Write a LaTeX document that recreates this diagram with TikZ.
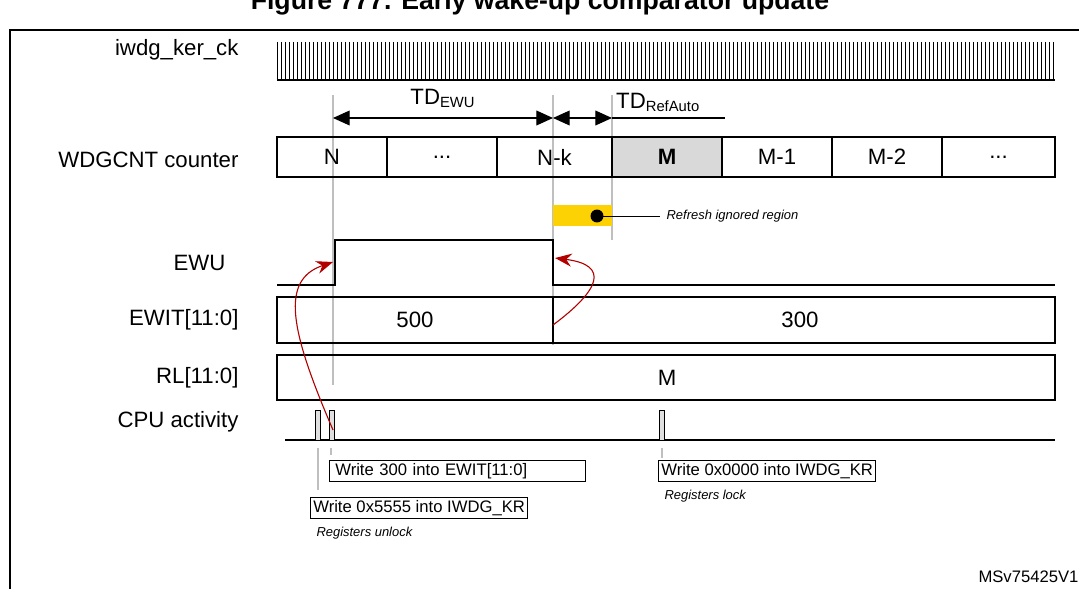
\documentclass[tikz,border=0pt]{standalone}
\usepackage{fontspec}
\setmainfont{Liberation Sans}
\usetikzlibrary{arrows.meta}

\begin{document}
\begin{tikzpicture}[x=0.019cm, y=-0.019cm,
	lbl/.style={font=\large, anchor=east},
	cell/.style={draw, line width=0.8pt, minimum height=40*0.019cm, inner sep=0pt, font=\large},
	note/.style={draw, line width=0.6pt, anchor=north west, inner sep=1.5pt, font=\small},
	cmt/.style={font=\scriptsize\itshape, anchor=west},
	guide/.style={gray!50, line width=0.6pt},
	wake/.style={red!70!black, line width=0.6pt, -{Stealth[length=9pt,width=7pt]}},
	td/.style={line width=0.6pt, {Triangle[length=9pt,width=8pt]}-{Triangle[length=9pt,width=8pt]}}]
	\useasboundingbox (0,0) rectangle (1079,589);
	% frame and title
	\draw[line width=1.2pt] (10,600) -- (10,30) -- (1090,30);
	\node[font=\Large\bfseries] (title) at (540,3) {Figure 777. Early wake-up comparator update};
	\node[anchor=south east, font=\small] (ref) at (1085,589) {MSv75425V1};
	% clock
	\node[lbl] (ck) at (245,50) {iwdg\_ker\_ck};
	\foreach \i in {0,...,194}
		\draw[line width=0.4pt] ({277+4*\i},42) -- ({277+4*\i},80);
	\draw[line width=0.8pt] (277,80) -- (1055,80);
	% guides
	\draw[guide] (333,95) -- (333,385);
	\draw[guide] (553,95) -- (553,345);
	\draw[guide] (612,95) -- (612,240);
	% time distances
	\coordinate (n0) at (333,118);
	\coordinate (n1) at (553,118);
	\coordinate (n2) at (612,118);
	\coordinate (n3) at (725,118);
	\draw[td] (n0) -- (n1) node[midway, above=2pt, font=\large] {TD\textsubscript{EWU}};
	\draw[td] (n1) -- (n2);
	\draw[line width=0.6pt] (n2) -- (n3);
	\node[anchor=south west, font=\large, inner sep=1pt] (tdref) at (614,114) {TD\textsubscript{RefAuto}};
	% counter
	\node[lbl] (cnt) at (245,160) {WDGCNT counter};
	\node[cell, minimum width=110*0.019cm] (c1) at (332,157) {N};
	\node[cell, minimum width=110*0.019cm] (c2) at (442,157) {...};
	\node[cell, minimum width=115*0.019cm] (c3) at (554.5,157) {N-k};
	\node[cell, minimum width=110*0.019cm, fill=gray!30, line width=1.6pt, font=\large\bfseries] (c4) at (667,157) {M};
	\node[cell, minimum width=110*0.019cm] (c5) at (777,157) {M-1};
	\node[cell, minimum width=110*0.019cm] (c6) at (887,157) {M-2};
	\node[cell, minimum width=113*0.019cm] (c7) at (998.5,157) {...};
	% refresh ignored region
	\fill[yellow!70!orange] (553,205) rectangle (612,226);
	\fill (597,216) circle (3.5pt) coordinate (dot);
	\draw[line width=0.5pt] (dot) -- (660,216) node[cmt] (rir) {Refresh ignored region};
	% EWU
	\node[lbl] (ewu) at (232,263) {EWU};
	\draw[line width=0.8pt] (277,285) -- (335,285) -- (335,240) -- (553,240) -- (553,285) -- (1055,285);
	% EWIT
	\node[lbl] (ewit) at (245,320) {EWIT[11:0]};
	\draw[line width=0.8pt] (277,297) rectangle (1055,343);
	\draw[line width=0.8pt] (553,297) -- (553,343);
	\node[font=\large] (v500) at (415,320) {500};
	\node[font=\large] (v300) at (800,320) {300};
	% RL
	\node[lbl] (rl) at (245,378) {RL[11:0]};
	\draw[line width=0.8pt] (277,355) rectangle (1055,400);
	\node[font=\large] (rlm) at (667,378) {M};
	% CPU activity
	\node[lbl] (cpu) at (245,422) {CPU activity};
	\draw[line width=0.8pt] (285,440) -- (1055,440);
	\foreach \x in {315,329,659}
		\draw[fill=gray!25, line width=0.5pt] (\x,440) rectangle ++(5,-30);
	\draw[guide] (318,448) -- (318,490);
	\draw[guide] (331,448) -- (331,455);
	\draw[guide] (662,448) -- (662,458);
	\node[note, minimum width=256*0.019cm, text width=250*0.019cm] (w300) at (329,460) {\,Write 300 into EWIT[11:0]};
	\node[note] (w5555) at (310,497) {Write 0x5555 into IWDG\_KR};
	\node[cmt, anchor=north west] (unl) at (310,521) {Registers unlock};
	\node[note] (w0000) at (658,460) {Write 0x0000 into IWDG\_KR};
	\node[cmt, anchor=north west] (lck) at (658,484) {Registers lock};
	% wake-up updates
	\coordinate (p1) at (333,430);
	\coordinate (e1) at (333,262);
	\coordinate (p2) at (553,325);
	\coordinate (e2) at (555,258);
	\draw[wake] (p1) .. controls (290,330) and (280,280) .. (e1);
	\draw[wake] (p2) .. controls (600,290) and (610,265) .. (e2);
\end{tikzpicture}
\end{document}
